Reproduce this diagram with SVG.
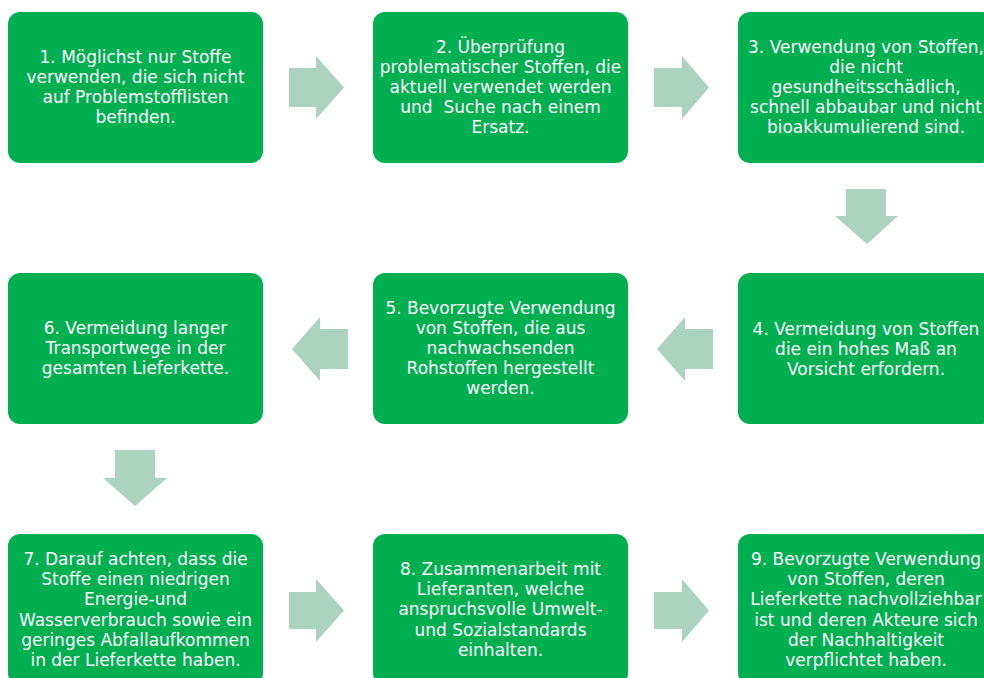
<svg xmlns="http://www.w3.org/2000/svg" width="984" height="678" viewBox="0 0 984 678">
<style>
.box{fill:#00AF50;}
.arr{fill:#ABD3BF;}
text{font-family:"DejaVu Sans","Liberation Sans",sans-serif;font-size:17px;fill:#FFFFFF;text-anchor:middle;}
</style>
<rect width="984" height="678" fill="#FFFFFF"/>
<g id="connectors">
<polygon class="arr" points="289,68 316,68 316,56 344,87.5 316,119 316,107 289,107"/>
<polygon class="arr" points="654,68 682,68 682,56 709,87.5 682,119 682,107 654,107"/>
<polygon class="arr" points="846,189 886,189 886,216 898,216 867,244 835,216 846,216"/>
<polygon class="arr" points="713,329 685,329 685,317 657,349 685,381 685,369 713,369"/>
<polygon class="arr" points="348,329 320,329 320,317 292,349 320,381 320,369 348,369"/>
<polygon class="arr" points="115,450 155,450 155,478 167,478 135,506 103,478 115,478"/>
<polygon class="arr" points="289,592 316,592 316,579 344,610.5 316,642 316,629 289,629"/>
<polygon class="arr" points="654,592 682,592 682,579 709,610.5 682,642 682,629 654,629"/>
</g>
<g id="node1">
<rect class="box" x="8" y="12" width="255" height="151" rx="12"/>
<text x="135.5" y="63">1. Möglichst nur Stoffe</text>
<text x="135.5" y="83">verwenden, die sich nicht</text>
<text x="135.5" y="103">auf Problemstofflisten</text>
<text x="135.5" y="123">befinden.</text>
</g>
<g id="node2">
<rect class="box" x="373" y="12" width="255" height="151" rx="12"/>
<text x="500.5" y="53">2. Überprüfung</text>
<text x="500.5" y="73">problematischer Stoffen, die</text>
<text x="500.5" y="93">aktuell verwendet werden</text>
<text x="500.5" y="113" xml:space="preserve">und  Suche nach einem</text>
<text x="500.5" y="133">Ersatz.</text>
</g>
<g id="node3">
<rect class="box" x="738" y="12" width="256" height="151" rx="12"/>
<text x="866" y="53">3. Verwendung von Stoffen,</text>
<text x="866" y="73">die nicht</text>
<text x="866" y="93">gesundheitsschädlich,</text>
<text x="866" y="113">schnell abbaubar und nicht</text>
<text x="866" y="133">bioakkumulierend sind.</text>
</g>
<g id="node4">
<rect class="box" x="738" y="273" width="256" height="151" rx="12"/>
<text x="866" y="335">4. Vermeidung von Stoffen</text>
<text x="866" y="355">die ein hohes Maß an</text>
<text x="866" y="375">Vorsicht erfordern.</text>
</g>
<g id="node5">
<rect class="box" x="373" y="273" width="255" height="151" rx="12"/>
<text x="500.5" y="314">5. Bevorzugte Verwendung</text>
<text x="500.5" y="334">von Stoffen, die aus</text>
<text x="500.5" y="354">nachwachsenden</text>
<text x="500.5" y="374">Rohstoffen hergestellt</text>
<text x="500.5" y="394">werden.</text>
</g>
<g id="node6">
<rect class="box" x="8" y="273" width="255" height="151" rx="12"/>
<text x="135.5" y="334">6. Vermeidung langer</text>
<text x="135.5" y="354">Transportwege in der</text>
<text x="135.5" y="374">gesamten Lieferkette.</text>
</g>
<g id="node7">
<rect class="box" x="8" y="534" width="255" height="151" rx="12"/>
<text x="135.5" y="565">7. Darauf achten, dass die</text>
<text x="135.5" y="585">Stoffe einen niedrigen</text>
<text x="135.5" y="605">Energie-und</text>
<text x="135.5" y="626">Wasserverbrauch sowie ein</text>
<text x="135.5" y="646">geringes Abfallaufkommen</text>
<text x="135.5" y="666">in der Lieferkette haben.</text>
</g>
<g id="node8">
<rect class="box" x="373" y="534" width="255" height="151" rx="12"/>
<text x="500.5" y="575">8. Zusammenarbeit mit</text>
<text x="500.5" y="595">Lieferanten, welche</text>
<text x="500.5" y="615">anspruchsvolle Umwelt-</text>
<text x="500.5" y="636">und Sozialstandards</text>
<text x="500.5" y="656">einhalten.</text>
</g>
<g id="node9">
<rect class="box" x="738" y="534" width="256" height="151" rx="12"/>
<text x="866" y="565">9. Bevorzugte Verwendung</text>
<text x="866" y="585">von Stoffen, deren</text>
<text x="866" y="605">Lieferkette nachvollziehbar</text>
<text x="866" y="626">ist und deren Akteure sich</text>
<text x="866" y="646">der Nachhaltigkeit</text>
<text x="866" y="666">verpflichtet haben.</text>
</g>
</svg>
